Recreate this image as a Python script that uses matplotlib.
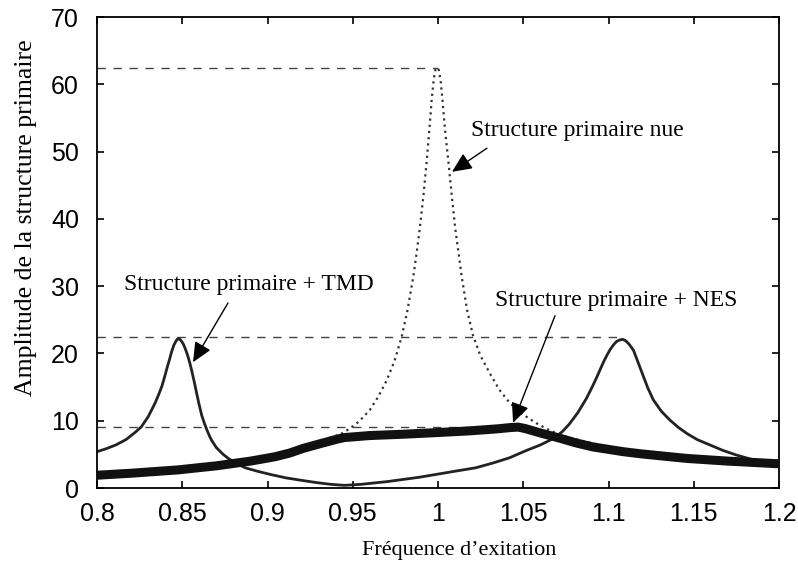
import matplotlib
matplotlib.use('Agg')
import matplotlib.pyplot as plt

# structure primaire nue (courbe pointillee)
x_nue = [0.800, 0.850, 0.900, 0.920, 0.9435, 0.948, 0.9523, 0.956, 0.960, 0.965,
         0.9699, 0.9745, 0.9787, 0.982, 0.9855, 0.9875, 0.9894, 0.9915, 0.9934, 0.995,
         0.9963, 0.9975, 0.9985, 0.9995, 1.0005, 1.0015, 1.0025, 1.004, 1.006, 1.008,
         1.010, 1.012, 1.0139, 1.017, 1.0205, 1.025, 1.0305, 1.036, 1.0422, 1.050,
         1.0579, 1.066, 1.0755, 1.088, 1.1009, 1.115, 1.130, 1.145, 1.160, 1.180,
         1.200]
y_nue = [1.9, 2.7, 4.6, 5.8, 8.1, 8.8, 9.6, 10.5, 11.6, 13.6,
         16.0, 18.9, 22.5, 26.3, 31.4, 35.0, 38.8, 43.6, 48.7, 53.5,
         57.8, 60.8, 62.2, 62.5, 62.1, 60.6, 58.0, 53.5, 48.7, 43.6,
         38.8, 35.0, 31.4, 26.5, 22.7, 19.6, 17.0, 14.6, 12.6, 10.9,
         9.6, 8.5, 7.6, 6.8, 6.1, 5.5, 5.0, 4.6, 4.3, 4.0,
         3.7]

# structure primaire + TMD
x_tmd = [0.800, 0.806, 0.811, 0.817, 0.822, 0.826, 0.830, 0.834, 0.836, 0.838,
         0.8395, 0.841, 0.8425, 0.8438, 0.845, 0.846, 0.847, 0.8477, 0.8486, 0.8496,
         0.8506, 0.8516, 0.8525, 0.8535, 0.8545, 0.8555, 0.857, 0.858, 0.8597, 0.8614,
         0.863, 0.8645, 0.866, 0.8672, 0.870, 0.874, 0.877, 0.882, 0.887, 0.894,
         0.902, 0.911, 0.921, 0.929, 0.937, 0.945, 0.955, 0.970, 0.989, 1.010,
         1.022, 1.032, 1.042, 1.052, 1.060, 1.068, 1.073, 1.077, 1.082, 1.087,
         1.090, 1.093, 1.097, 1.099, 1.101, 1.103, 1.1048, 1.1065, 1.1083, 1.110,
         1.112, 1.1146, 1.117, 1.120, 1.123, 1.1263, 1.131, 1.136, 1.141, 1.146,
         1.152, 1.1595, 1.167, 1.175, 1.182, 1.189, 1.195, 1.200]
y_tmd = [5.4, 5.9, 6.4, 7.2, 8.2, 9.1, 10.6, 12.6, 13.8, 15.1,
         16.4, 17.8, 19.1, 20.3, 21.2, 21.7, 22.1, 22.2, 22.1, 21.8,
         21.4, 20.8, 20.2, 19.4, 18.5, 17.5, 15.8, 14.6, 12.6, 10.8,
         9.6, 8.6, 7.7, 7.1, 6.0, 5.0, 4.4, 3.6, 3.0, 2.5,
         2.0, 1.5, 1.1, 0.8, 0.55, 0.4, 0.55, 0.95, 1.6, 2.5,
         3.0, 3.7, 4.5, 5.6, 6.4, 7.4, 8.4, 9.5, 11.2, 13.3,
         14.8, 16.4, 18.7, 19.7, 20.6, 21.3, 21.8, 22.0, 22.1, 21.9,
         21.4, 20.5, 18.9, 16.9, 14.9, 13.1, 11.4, 10.1, 9.0, 8.1,
         7.2, 6.4, 5.6, 4.9, 4.4, 3.9, 3.7, 3.5]

# structure primaire + NES
x_nes = [0.800, 0.820, 0.8477, 0.870, 0.890, 0.9044, 0.913, 0.921, 0.931, 0.9406,
         0.945, 0.950, 0.960, 0.980, 1.000, 1.0188, 1.035, 1.043, 1.047, 1.051,
         1.0598, 1.0715, 1.081, 1.091, 1.1087, 1.1184, 1.132, 1.1459, 1.170, 1.200]
y_nes = [1.9, 2.2, 2.7, 3.3, 4.0, 4.65, 5.2, 5.9, 6.6, 7.25,
         7.5, 7.6, 7.8, 8.0, 8.25, 8.5, 8.8, 9.0, 9.05, 8.85,
         8.2, 7.4, 6.7, 6.1, 5.4, 5.1, 4.75, 4.4, 4.0, 3.6]

# niveaux des pics (traits tiretes)
pic_y = [62.5, 22.5, 9.0]
pic_x = [1.0, 1.108, 1.045]

xticks = [0.8, 0.85, 0.9, 0.95, 1, 1.05, 1.1, 1.15, 1.2]
xtick_labels = ['0.8', '0.85', '0.9', '0.95', '1', '1.05', '1.1', '1.15', '1.2']
yticks = [0, 10, 20, 30, 40, 50, 60, 70]

serif = 'Liberation Serif'
sans = 'Liberation Sans'

fig = plt.figure(figsize=(7.98, 5.68), dpi=100)
ax = fig.add_axes([0.1216, 0.1408, 0.8546, 0.8292])

for yv, xe in zip(pic_y, pic_x):
    ax.plot([0.8, xe], [yv, yv], color='#444444', lw=1.0, ls=(0, (6, 5.5)), zorder=1)

ax.plot(x_tmd, y_tmd, color='#222222', lw=2.0, zorder=2, solid_joinstyle='round')
ax.plot(x_nue, y_nue, color='#333333', lw=1.6, ls=(0, (1, 1.8)), zorder=2.5)
ax.plot(x_nes, y_nes, color='#111111', lw=6.5, zorder=3, solid_joinstyle='round',
        solid_capstyle='butt')

arrow = dict(arrowstyle='-|>,head_length=0.55,head_width=0.25', color='black',
             lw=1.0, mutation_scale=22, shrinkA=0, shrinkB=0)
ax.annotate('', xy=(1.0082, 47.0), xytext=(1.0287, 50.5), arrowprops=arrow)
ax.annotate('', xy=(0.8563, 18.7), xytext=(0.8768, 27.5), arrowprops=arrow)
ax.annotate('', xy=(1.044, 9.7), xytext=(1.0686, 25.6), arrowprops=arrow)

ax.text(1.0818, 53.1, 'Structure primaire nue', family=serif, fontsize=17,
        ha='center', va='center')
ax.text(0.8892, 30.3, 'Structure primaire + TMD', family=serif, fontsize=17,
        ha='center', va='center')
ax.text(1.1044, 27.9, 'Structure primaire + NES', family=serif, fontsize=17,
        ha='center', va='center')

ax.set_xlim(0.8, 1.2)
ax.set_ylim(0, 70)
ax.set_xticks(xticks)
ax.set_xticklabels(xtick_labels)
ax.set_yticks(yticks)
ax.tick_params(direction='in', top=True, right=True, length=5, width=1.2,
               labelsize=18)
ax.tick_params(axis='x', pad=10)
ax.tick_params(axis='y', pad=13)
for lab in ax.get_xticklabels() + ax.get_yticklabels():
    lab.set_family(sans)
for s in ax.spines.values():
    s.set_linewidth(1.3)

ax.set_xlabel("Fréquence d’exitation", family=serif, fontsize=16)
ax.xaxis.set_label_coords(0.531, -0.113)
ax.set_ylabel('Amplitude de la structure primaire', family=serif, fontsize=18.5)
ax.yaxis.set_label_coords(-0.088, 0.573)

fig.savefig('out.png', dpi=100)
